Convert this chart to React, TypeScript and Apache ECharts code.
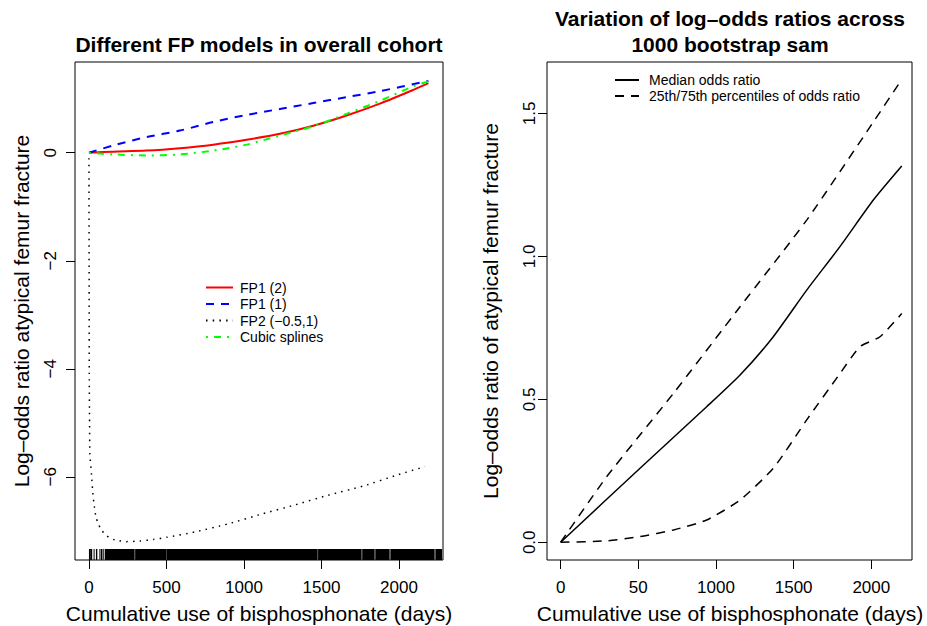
import React, { useEffect, useRef } from "react";
import * as echarts from "echarts";

// ---------- data ----------
const xTicks = [0, 500, 1000, 1500, 2000];
const leftXTickLabels = ["0", "500", "1000", "1500", "2000"];
const rightXTickLabels = ["0", "50", "1000", "1500", "2000"];
const leftYTicks = [-6, -4, -2, 0];
const leftYTickLabels = ["−6", "−4", "−2", "0"];
const rightYTicks = [0, 0.5, 1, 1.5];
const rightYTickLabels = ["0.0", "0.5", "1.0", "1.5"];

const leftSeriesNames = ["FP1 (2)", "FP1 (1)", "FP2 (−0.5,1)", "Cubic splines"];
const rightSeriesNames = ["Median odds ratio", "25th/75th percentiles of odds ratio"];

// FP1 (2) – red
const fp1Power2 = [
  [0, 0], [157, 0.02], [372, 0.04], [587, 0.085], [802, 0.15], [1017, 0.24],
  [1232, 0.35], [1447, 0.5], [1662, 0.69], [1877, 0.91], [2093, 1.165], [2190, 1.29],
];
// FP1 (1) – blue
const fp1Power1 = [
  [0, 0], [157, 0.135], [372, 0.29], [587, 0.41], [802, 0.57], [1017, 0.7],
  [1232, 0.81], [1447, 0.92], [1662, 1.03], [1877, 1.14], [2190, 1.33],
];
// FP2 (-0.5,1) – black dotted
const fp2 = [
  [0, -0.1], [1, -2.2], [2, -4.1], [4, -5.0], [6, -5.58], [17, -5.97], [23, -6.23],
  [32, -6.49], [45, -6.74], [60, -6.87], [82, -6.99], [110, -7.08], [147, -7.15],
  [194, -7.18], [237, -7.2], [325, -7.19], [415, -7.16], [501, -7.12], [684, -7.02],
  [899, -6.87], [1114, -6.69], [1329, -6.52], [1544, -6.34], [1770, -6.17],
  [1985, -5.97], [2168, -5.81],
];
// Cubic splines – green
const cubicSplines = [
  [0, 0], [157, -0.03], [372, -0.05], [587, -0.03], [802, 0.04], [1017, 0.15],
  [1232, 0.32], [1447, 0.49], [1662, 0.72], [1877, 0.96], [2093, 1.23], [2190, 1.32],
];

// rug of observed cumulative use (days): dense stretches and lighter stretches
const rugDark = [
  [0, 3], [8, 21], [30, 34], [45, 54], [77, 86], [103, 292], [298, 497], [503, 1472],
  [1478, 1757], [1763, 1842], [1848, 1938], [1946, 2228], [2236, 2278],
];
const rugLight = [
  [3, 8], [66, 75], [88, 99], [292, 298], [497, 503], [1472, 1478], [1757, 1763],
  [1842, 1848], [1938, 1946], [2228, 2236],
];

// right panel
const medianOR = [
  [0, 0], [511, 0.259], [940, 0.474], [1155, 0.585], [1369, 0.719], [1584, 0.882],
  [1798, 1.034], [2013, 1.197], [2196, 1.316],
];
const upperOR = [
  [0, 0], [296, 0.229], [726, 0.521], [1155, 0.824], [1584, 1.127], [2013, 1.47], [2196, 1.619],
];
const lowerOR = [
  [0, 0], [296, 0.005], [511, 0.02], [726, 0.043], [940, 0.078], [1155, 0.148],
  [1369, 0.259], [1584, 0.428], [1798, 0.59], [1927, 0.684], [2056, 0.719], [2196, 0.8],
];

// ---------- layout ----------
const FONT = "'Liberation Sans', Arial, Helvetica, sans-serif";
const LEFT_X = { min: -90, max: 2284 };
const RIGHT_X = { min: -88, max: 2262 };
const LEFT_Y = { min: -7.54, max: 1.68 };
const RIGHT_Y = { min: -0.062, max: 1.68 };
const RUG_H = 11;

function xAxis(gridIndex: number, range: { min: number; max: number }, labels: string[]) {
  return {
    type: "value",
    gridIndex,
    min: range.min,
    max: range.max,
    splitLine: { show: false },
    axisLine: { show: false, onZero: false },
    axisTick: { show: true, customValues: xTicks, length: 9, lineStyle: { color: "#000", width: 1 } },
    axisLabel: {
      customValues: xTicks,
      formatter: (v: number) => labels[xTicks.indexOf(v)] ?? "",
      fontSize: 17,
      fontFamily: FONT,
      color: "#000",
      margin: 19,
    },
  };
}

function yAxis(
  gridIndex: number,
  range: { min: number; max: number },
  ticks: number[],
  labels: string[],
  labelMargin: number
) {
  return {
    type: "value",
    gridIndex,
    min: range.min,
    max: range.max,
    splitLine: { show: false },
    axisLine: { show: false, onZero: false },
    axisTick: { show: true, customValues: ticks, length: 9, lineStyle: { color: "#000", width: 1 } },
    axisLabel: {
      customValues: ticks,
      rotate: 90,
      formatter: (v: number) => {
        const i = ticks.findIndex((t) => Math.abs(t - v) < 1e-9);
        return i >= 0 ? labels[i] : "";
      },
      fontSize: 17,
      fontFamily: FONT,
      color: "#000",
      margin: labelMargin,
    },
  };
}

function rugSeries(data: number[][], color: string) {
  return {
    type: "custom",
    xAxisIndex: 0,
    yAxisIndex: 0,
    silent: true,
    data,
    encode: { x: [0, 1] },
    renderItem: (_p: any, api: any) => {
      const a = api.coord([api.value(0), LEFT_Y.min]);
      const b = api.coord([api.value(1), LEFT_Y.min]);
      return {
        type: "rect",
        shape: { x: a[0], y: a[1] - RUG_H, width: Math.max(b[0] - a[0], 1), height: RUG_H },
        style: { fill: color },
      };
    },
  };
}

function text(t: string, x: number, y: number, size: number, extra: any = {}) {
  return {
    type: "text",
    x,
    y,
    silent: true,
    style: {
      text: t,
      fontSize: size,
      fontFamily: FONT,
      fill: "#000",
      align: "center",
      verticalAlign: "middle",
      ...(extra.style || {}),
    },
    ...(extra.el || {}),
  };
}

export default function App() {
  const ref = useRef<HTMLDivElement>(null);

  useEffect(() => {
    if (!ref.current) return;
    const chart = echarts.init(ref.current, undefined, { renderer: "svg" });
    const legendCommon = {
      orient: "vertical",
      selectedMode: false,
      itemHeight: 14,
      itemStyle: { opacity: 0 },
    };
    const option: any = {
      animation: false,
      backgroundColor: "#fff",
      grid: [
        { left: 75, top: 62, width: 368, height: 498, show: true, borderColor: "#000", borderWidth: 1, backgroundColor: "transparent", outerBoundsMode: "none" },
        { left: 547, top: 62, width: 365, height: 498, show: true, borderColor: "#000", borderWidth: 1, backgroundColor: "transparent", outerBoundsMode: "none" },
      ],
      xAxis: [xAxis(0, LEFT_X, leftXTickLabels), xAxis(1, RIGHT_X, rightXTickLabels)],
      yAxis: [
        yAxis(0, LEFT_Y, leftYTicks, leftYTickLabels, 16),
        yAxis(1, RIGHT_Y, rightYTicks, rightYTickLabels, 9),
      ],
      legend: [
        {
          ...legendCommon,
          data: leftSeriesNames,
          left: 200,
          top: 275.5,
          itemWidth: 27,
          itemGap: 2.5,
          textStyle: { fontSize: 14, fontFamily: FONT, color: "#000", padding: [0, 0, 0, 2] },
        },
        {
          ...legendCommon,
          data: rightSeriesNames,
          left: 609,
          top: 68,
          itemWidth: 24,
          itemGap: 2,
          textStyle: { fontSize: 14, fontFamily: FONT, color: "#000", padding: [0, 0, 0, 5] },
        },
      ],
      graphic: [
        text("Different FP models in overall cohort", 259, 44, 21, { style: { fontWeight: "bold" } }),
        text("Variation of log–odds ratios across", 730, 18, 21, { style: { fontWeight: "bold" } }),
        text("1000 bootstrap sam", 730, 44.5, 21, { style: { fontWeight: "bold" } }),
        text("Cumulative use of bisphosphonate (days)", 259, 613, 21),
        text("Cumulative use of bisphosphonate (days)", 730, 613, 21),
        text("Log–odds ratio atypical femur fracture", 21, 311, 21, { el: { rotation: Math.PI / 2 } }),
        text("Log–odds ratio of atypical femur fracture", 490, 311, 21, { el: { rotation: Math.PI / 2 } }),
      ],
      series: [
        rugSeries(rugLight, "#444"),
        rugSeries(rugDark, "#000"),
        {
          type: "line", name: leftSeriesNames[0], xAxisIndex: 0, yAxisIndex: 0, data: fp1Power2,
          symbol: "none", smooth: 0.3, lineStyle: { color: "#ff0000", width: 2, type: "solid" },
          itemStyle: { color: "#ff0000" },
        },
        {
          type: "line", name: leftSeriesNames[1], xAxisIndex: 0, yAxisIndex: 0, data: fp1Power1,
          symbol: "none", smooth: 0.3, lineStyle: { color: "#0000ff", width: 2, type: [8, 7] },
          itemStyle: { color: "#0000ff" },
        },
        {
          type: "line", name: leftSeriesNames[2], xAxisIndex: 0, yAxisIndex: 0, data: fp2,
          symbol: "none", smooth: 0.2, lineStyle: { color: "#000", width: 1.5, type: [1.5, 5.2] },
          itemStyle: { color: "#000" },
        },
        {
          type: "line", name: leftSeriesNames[3], xAxisIndex: 0, yAxisIndex: 0, data: cubicSplines,
          symbol: "none", smooth: 0.3, lineStyle: { color: "#00ff00", width: 2, type: [2, 6, 7, 6] },
          itemStyle: { color: "#00ff00" },
        },
        {
          type: "line", name: rightSeriesNames[0], xAxisIndex: 1, yAxisIndex: 1, data: medianOR,
          symbol: "none", smooth: 0.2, lineStyle: { color: "#000", width: 1.5, type: "solid" },
          itemStyle: { color: "#000" },
        },
        {
          type: "line", name: rightSeriesNames[1], xAxisIndex: 1, yAxisIndex: 1, data: upperOR,
          symbol: "none", smooth: 0.2, lineStyle: { color: "#000", width: 1.5, type: [9, 7] },
          itemStyle: { color: "#000" },
        },
        {
          type: "line", name: rightSeriesNames[1], xAxisIndex: 1, yAxisIndex: 1, data: lowerOR,
          symbol: "none", smooth: 0.2, lineStyle: { color: "#000", width: 1.5, type: [9, 7] },
          itemStyle: { color: "#000" },
        },
      ],
    };
    chart.setOption(option);
    return () => chart.dispose();
  }, []);

  return (
    <div
      ref={ref}
      style={{ position: "fixed", left: 0, top: 0, width: 927, height: 626, background: "#fff" }}
    />
  );
}
